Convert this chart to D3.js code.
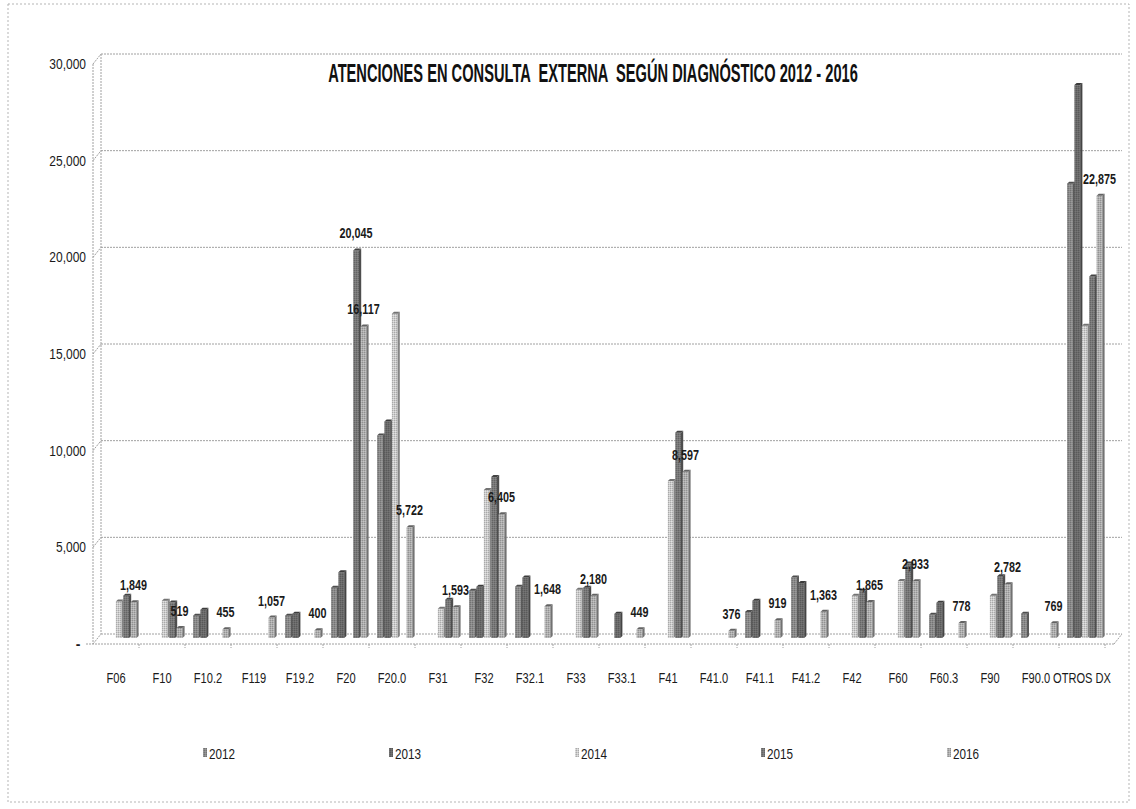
<!DOCTYPE html>
<html>
<head>
<meta charset="utf-8">
<script src="https://cdnjs.cloudflare.com/ajax/libs/d3/7.8.5/d3.min.js"></script>
<style>
    html, body { margin: 0; padding: 0; background: #fff; }
    svg { display: block; font-family: "Liberation Sans Narrow", "Liberation Sans", sans-serif; }
</style>
</head>
<body>
<div id="chart"></div>
<script>
// Atenciones en consulta externa segun diagnostico 2012 - 2016
// Values.

const categories = ['F06', 'F10', 'F10.2', 'F119', 'F19.2', 'F20', 'F20.0', 'F31', 'F32', 'F32.1', 'F33',
    'F33.1', 'F41', 'F41.0', 'F41.1', 'F41.2', 'F42', 'F60', 'F60.3', 'F90', 'F90.0', 'OTROS DX'];
const years = ['2012', '2013', '2014', '2015', '2016'];

const values2012 = [0, 0, 1150, 0, 1150, 2600, 10470, 0, 2450, 2650, 0, 0, 0, 0, 1350, 3130, 0, 0, 1200, 0, 1250, 23500];
const values2013 = [0, 0, 1460, 0, 1250, 3400, 11200, 0, 2650, 3130, 0, 1250, 0, 0, 1930, 2850, 0, 0, 1820, 0, 0, 28600];
const values2014 = [1890, 1930, 0, 0, 0, 0, 16770, 1510, 7650, 0, 2500, 0, 8120, 0, 0, 0, 2190, 2950, 0, 2190, 0, 16150];
const values2015 = [2190, 1830, 0, 0, 0, 20045, 0, 1980, 8330, 0, 2600, 0, 10620, 0, 0, 0, 2450, 3850, 0, 3200, 0, 18700];
const values2016 = [1849, 519, 455, 1057, 400, 16117, 5722, 1593, 6405, 1648, 2180, 449, 8597, 376, 919, 1363, 1865, 2933, 778, 2782, 769, 22875];

const yTicks = [0, 5000, 10000, 15000, 20000, 25000, 30000];
// data labels shown on the chart: [year, category]
const labelled = categories.map(c => ['2016', c]).concat([['2015', 'F20']]);

const seriesValues = [values2012, values2013, values2014, values2015, values2016];
const seriesFill = ['#8a8a8a', '#6a6a6a', '#cbcbcb', '#787878', '#afafaf'];

const width = 1136, height = 809;
const depthX = 8, depthY = 10;   // 3D offset of the back wall
const barShift = 6;              // bars sit between front edge and back wall

const svg = d3.select('#chart')
    .append('svg')
    .attr('width', width)
    .attr('height', height);

// Scan-like dithering patterns
const defs = svg.append('defs');
seriesFill.forEach((col, i) => {
    const p = defs.append('pattern')
        .attr('id', 'pat' + i)
        .attr('width', 2).attr('height', 2)
        .attr('patternUnits', 'userSpaceOnUse');
    p.append('rect').attr('width', 2).attr('height', 2).attr('fill', col);
    p.append('rect').attr('width', 1).attr('height', 1).attr('fill', d3.color(col).darker(0.5));
    p.append('rect').attr('x', 1).attr('y', 1).attr('width', 1).attr('height', 1).attr('fill', d3.color(col).brighter(0.3));
});

// Condensed text helper (scan font is very narrow)
function narrowText(parent, x, y, str, size, sx, anchor, weight) {
    return parent.append('g')
        .attr('transform', `translate(${x},${y}) scale(${sx},1)`)
        .append('text')
        .attr('text-anchor', anchor)
        .attr('font-size', size)
        .attr('font-weight', weight || 'normal')
        .attr('fill', '#1a1a1a')
        .text(str);
}

// Outer dotted border
svg.append('rect')
    .attr('x', 8).attr('y', 4)
    .attr('width', 1121).attr('height', 798)
    .attr('fill', 'none')
    .attr('stroke', '#b5b5b5')
    .attr('stroke-dasharray', '2,2');

const x = d3.scaleBand()
    .domain(categories)
    .range([93, 93 + 46 * categories.length]);

const xs = d3.scaleBand()
    .domain(years)
    .range([0, 37]);

const y = d3.scaleLinear()
    .domain([0, 30000])
    .range([644, 64]);

const grid = svg.append('g')
    .attr('fill', 'none')
    .attr('stroke', '#a0a0a0')
    .attr('stroke-dasharray', '2,1');

const wallRight = 1122;

// Back wall gridlines plus little slanted edge on the side wall
yTicks.forEach(t => {
    grid.append('line')
        .attr('x1', 93 + depthX).attr('x2', wallRight)
        .attr('y1', y(t) - depthY).attr('y2', y(t) - depthY);
    grid.append('line')
        .attr('x1', 93).attr('x2', 93 + depthX)
        .attr('y1', y(t)).attr('y2', y(t) - depthY);
});

// side wall and floor
grid.append('line')
    .attr('x1', 93).attr('x2', 93)
    .attr('y1', y(30000)).attr('y2', y(0));
grid.append('line')
    .attr('x1', 93 + depthX).attr('x2', 93 + depthX)
    .attr('y1', y(30000) - depthY).attr('y2', y(0) - depthY);
grid.append('line')
    .attr('x1', 86).attr('x2', wallRight - depthX)
    .attr('y1', y(0)).attr('y2', y(0));
grid.append('line')
    .attr('x1', wallRight - depthX).attr('x2', wallRight)
    .attr('y1', y(0)).attr('y2', y(0) - depthY);

// x ticks on the front edge of the floor
categories.forEach(c => {
    grid.append('line')
        .attr('x1', x(c) + x.bandwidth()).attr('x2', x(c) + x.bandwidth())
        .attr('y1', y(0)).attr('y2', y(0) + 4)
        .attr('stroke-dasharray', null);
});

// Y axis labels
const yLabels = svg.append('g');
yTicks.forEach(t => {
    if (t === 0) {
        narrowText(yLabels, 78, y(t) + 5, '-', 14, 1, 'middle', 'bold');
    } else {
        narrowText(yLabels, 86, y(t) + 5, d3.format(',')(t), 15, 0.8, 'end');
    }
});

// X axis labels
const xLabels = svg.append('g');
categories.forEach(c => {
    narrowText(xLabels, x(c) + x.bandwidth() / 2, 683, c, 15, 0.74, 'middle');
});

// 3D columns
const bars = svg.append('g');
const faceW = 5.8, sideW = 2.2, sideH = 2;

categories.forEach((c, ci) => {
    years.forEach((yr, si) => {
        const v = seriesValues[si][ci];
        if (!v) return;
        const x0 = x(c) + depthX + xs(yr);
        const top = y(v) - barShift;
        const base = y(0) - barShift;
        const fill = seriesFill[si];
        const g = bars.append('g');
        // front face
        g.append('rect')
            .attr('x', x0).attr('y', top)
            .attr('width', faceW).attr('height', base - top)
            .attr('fill', `url(#pat${si})`);
        // side face
        g.append('path')
            .attr('d', `M${x0 + faceW},${top}L${x0 + faceW + sideW},${top - sideH}L${x0 + faceW + sideW},${base - sideH}L${x0 + faceW},${base}Z`)
            .attr('fill', d3.color(fill).darker(1.2));
        // top face
        g.append('path')
            .attr('d', `M${x0},${top}L${x0 + sideW},${top - sideH}L${x0 + faceW + sideW},${top - sideH}L${x0 + faceW},${top}Z`)
            .attr('fill', d3.color(fill).darker(1.6));
    });
});

// Data labels
const dataLabels = svg.append('g');
labelled.forEach(([yr, c]) => {
    const si = years.indexOf(yr);
    const ci = categories.indexOf(c);
    const v = seriesValues[si][ci];
    const cx = x(c) + depthX + xs(yr) + faceW / 2;
    narrowText(dataLabels, cx, y(v) - barShift - 12, d3.format(',')(v), 15, 0.72, 'middle', 'bold');
});

// Title, squeezed to the width it takes in the scan
const title = narrowText(svg, 593, 82, 'ATENCIONES EN CONSULTA  EXTERNA  SEGÚN DIAGNÓSTICO 2012 - 2016', 26, 1, 'middle', 'bold')
    .attr('fill', '#111')
    .style('white-space', 'pre');
const natural = title.node().getComputedTextLength();
d3.select(title.node().parentNode)
    .attr('transform', `translate(593,82) scale(${530 / natural},1)`);

// Legend
const legend = svg.append('g');
years.forEach((yr, si) => {
    const lx = 205 + si * 186;
    legend.append('rect')
        .attr('x', lx - 2).attr('y', 748)
        .attr('width', 4).attr('height', 9)
        .attr('fill', `url(#pat${si})`);
    narrowText(legend, lx + 4, 759, yr, 15, 0.78, 'start');
});
</script>
</body>
</html>
